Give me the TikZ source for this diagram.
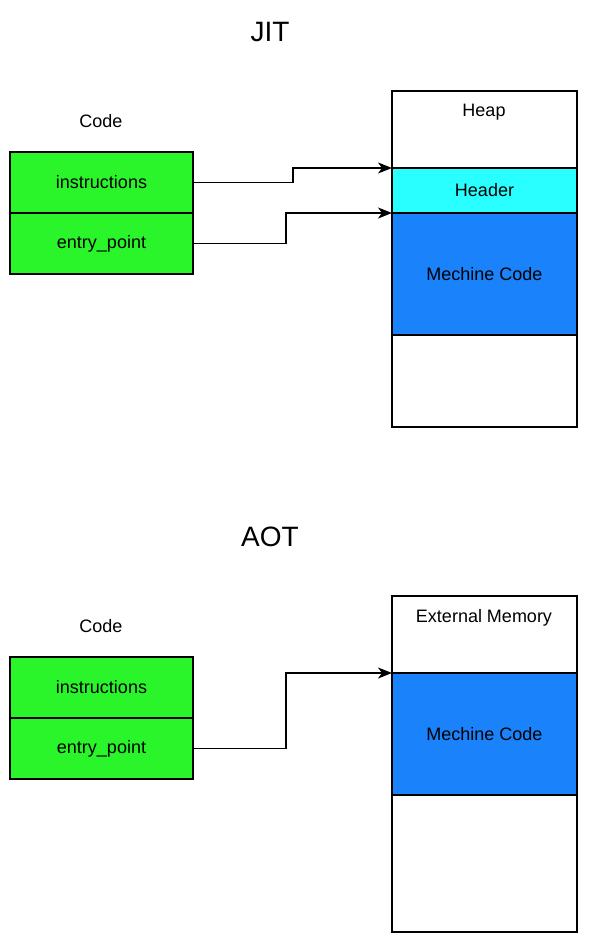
\documentclass[tikz,border=0pt]{standalone}
\usepackage{fontspec}
\setmainfont{Liberation Sans}
\usetikzlibrary{arrows.meta}
\definecolor{codegreen}{RGB}{42,245,42}
\definecolor{hdrcyan}{RGB}{42,255,255}
\definecolor{mcblue}{RGB}{26,130,250}
\tikzset{
  cell/.style={draw=black, line width=1.4pt, minimum width=183pt, inner sep=0pt, outer sep=0pt, font=\fontsize{18}{21}\selectfont},
  mem/.style={draw=black, line width=1.4pt, fill=white, minimum width=185pt, inner sep=0pt, outer sep=0pt},
  lbl/.style={font=\fontsize{18}{21}\selectfont, inner sep=0pt},
  ttl/.style={font=\fontsize{28}{32}\selectfont, inner sep=0pt},
  conn/.style={line width=1.5pt, -{Stealth[length=14pt, width=11pt, inset=4pt]}}
}
\begin{document}
\begin{tikzpicture}[x=1pt,y=-1pt]
\useasboundingbox (0,0) rectangle (590,944);
% JIT
\node[ttl] (jit) at (270,32) {JIT};
\node[lbl] (code1) at (101,121) {Code};
\node[cell, fill=codegreen, minimum height=61pt, anchor=north west] (ins1) at (10,152) {instructions};
\node[cell, fill=codegreen, minimum height=61pt, anchor=north west] (ent1) at (10,213) {entry\_point};
\node[mem, minimum height=336pt, anchor=north west] (heap) at (392,91) {};
\node[lbl] (heaplbl) at (484,112) {Heap};
\node[cell, fill=hdrcyan, minimum width=185pt, minimum height=45pt, anchor=north west] (hdr) at (392,168) {Header};
\node[cell, fill=mcblue, minimum width=185pt, minimum height=122pt, anchor=north west] (mc1) at (392,213) {Mechine Code};
\draw[conn] (ins1.east) -- ++(100,0) |- (hdr.north west);
\draw[conn] (ent1.east) -- ++(93,0) |- (mc1.north west);
% AOT
\node[ttl] (aot) at (270,537) {AOT};
\node[lbl] (code2) at (101,626) {Code};
\node[cell, fill=codegreen, minimum height=61pt, anchor=north west] (ins2) at (10,657) {instructions};
\node[cell, fill=codegreen, minimum height=61pt, anchor=north west] (ent2) at (10,718) {entry\_point};
\node[mem, minimum height=336pt, anchor=north west] (ext) at (392,596) {};
\node[lbl] (extlbl) at (484,618) {External Memory};
\node[cell, fill=mcblue, minimum width=185pt, minimum height=122pt, anchor=north west] (mc2) at (392,673) {Mechine Code};
\draw[conn] (ent2.east) -- ++(93,0) |- (mc2.north west);
\end{tikzpicture}
\end{document}
